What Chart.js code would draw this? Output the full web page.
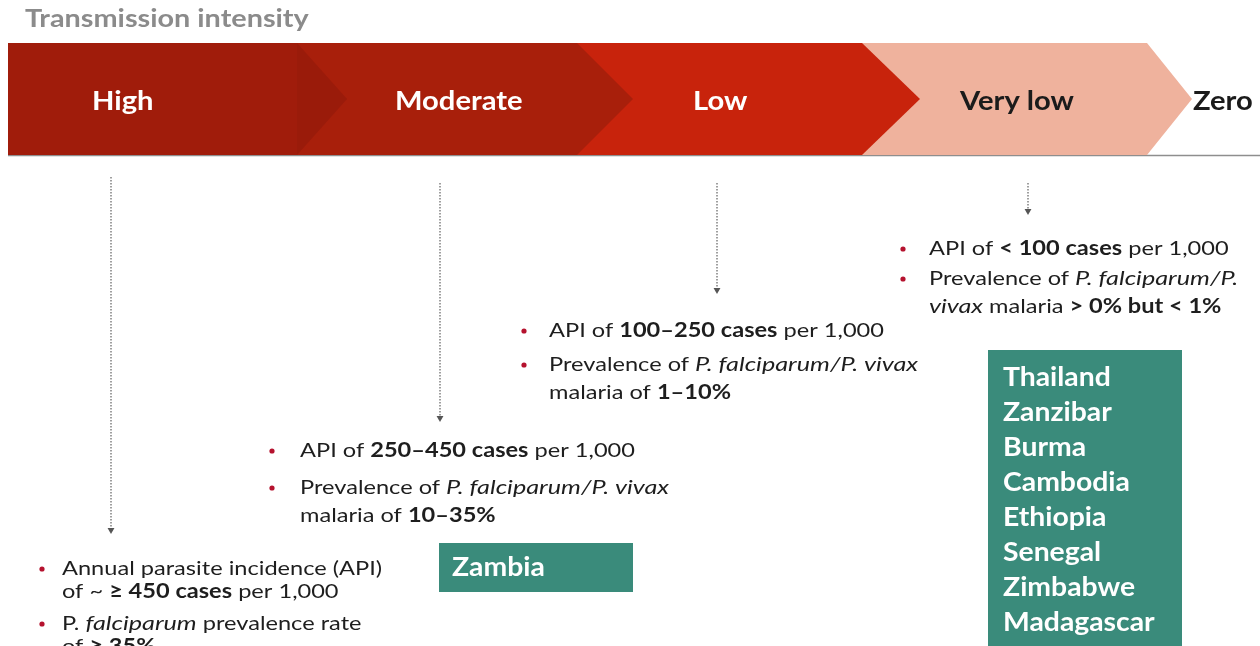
<!DOCTYPE html>
<html>
<head>
<meta charset="utf-8">
<script src="https://cdn.jsdelivr.net/npm/chart.js@4.4.1/dist/chart.umd.min.js"></script>
<style>
  html, body { margin: 0; padding: 0; background: #fff; }
  #wrap { width: 1260px; height: 646px; }
</style>
</head>
<body>
<div id="wrap"><canvas id="intensity"></canvas></div>
<script>
// --- data ---
const title = 'Transmission intensity';
const stages = ['High', 'Moderate', 'Low', 'Very low', 'Zero'];
const stageColors = ['#a01c0b', '#a81f0b', '#c8230c', '#efb29d', '#ffffff'];
const stageTextColors = ['#ffffff', '#ffffff', '#ffffff', '#1b1b1b', '#1b1b1b'];

// bullet notes per stage: bullet -> lines -> [text, style]  (b = bold, i = italic)
const notesHigh = [
  [[['Annual parasite incidence (API)', '']], [['of ~ ', ''], ['\u2265 450 cases', 'b'], [' per 1,000', '']]],
  [[['P. ', ''], ['falciparum', 'i'], [' prevalence rate', '']], [['of ', ''], ['\u2265 35%', 'b']]]
];
const notesModerate = [
  [[['API of ', ''], ['250\u2013450 cases', 'b'], [' per 1,000', '']]],
  [[['Prevalence of ', ''], ['P. falciparum/P. vivax', 'i']], [['malaria of ', ''], ['10\u201335%', 'b']]]
];
const notesLow = [
  [[['API of ', ''], ['100\u2013250 cases', 'b'], [' per 1,000', '']]],
  [[['Prevalence of ', ''], ['P. falciparum/P. vivax', 'i']], [['malaria of ', ''], ['1\u201310%', 'b']]]
];
const notesVeryLow = [
  [[['API of ', ''], ['< 100 cases', 'b'], [' per 1,000', '']]],
  [[['Prevalence of ', ''], ['P. falciparum/P.', 'i']], [['vivax', 'i'], [' malaria ', ''], ['> 0% but < 1%', 'b']]]
];
const countriesModerate = ['Zambia'];
const countriesVeryLow = ['Thailand', 'Zanzibar', 'Burma', 'Cambodia', 'Ethiopia', 'Senegal', 'Zimbabwe', 'Madagascar'];

// --- layout (diagram units = pixels of the 1260x646 picture) ---
const band = { left: 8, top: 43, bottom: 155 };
const chevronEnd = [297, 577, 862, 1147];
const chevronTip = [347, 633, 920, 1192];
const labelX = [92, 395, 693, 960, 1193];
const arrows = [
  { x: 111, from: 177, to: 530 },
  { x: 440, from: 183, to: 418 },
  { x: 717, from: 183, to: 290 },
  { x: 1028, from: 183, to: 211 }
];
const noteBlocks = [
  { notes: notesHigh, dotX: 42, textX: 62, baselines: [[575, 598], [630, 653]] },
  { notes: notesModerate, dotX: 272, textX: 300, baselines: [[457], [494, 522]] },
  { notes: notesLow, dotX: 524, textX: 549, baselines: [[337], [371, 399]] },
  { notes: notesVeryLow, dotX: 903, textX: 929, baselines: [[255], [285, 313]] }
];
const boxes = [
  { names: countriesModerate, x0: 439, x1: 633, y0: 543, y1: 592, textX: 452, first: 576 },
  { names: countriesVeryLow, x0: 988, x1: 1182, y0: 350, y1: 650, textX: 1003, first: 386 }
];

const FONT = 'Lato, "Open Sans", sans-serif';
// the source picture is a little stretched sideways
const stretch = { '': 1.18, b: 1.18, i: 1.26 };

function fontFor(style, size) {
  if (style === 'b') return 'bold ' + size + 'px ' + FONT;
  if (style === 'i') return 'italic ' + size + 'px ' + FONT;
  return size + 'px ' + FONT;
}

function wideText(ctx, t, x, y, sx) {
  ctx.save();
  ctx.translate(x, y);
  ctx.scale(sx, 1);
  ctx.fillText(t, 0, 0);
  ctx.restore();
  return ctx.measureText(t).width * sx;
}

function drawRich(ctx, x, y, segs, size) {
  let cx = x;
  segs.forEach(([t, s]) => {
    ctx.font = fontFor(s, size);
    cx += wideText(ctx, t, cx, y, stretch[s]);
  });
}

const diagram = {
  id: 'diagram',
  beforeDatasetsDraw(chart) {
    const { ctx, scales: { x, y } } = chart;
    const px = v => x.getPixelForValue(v);
    const py = v => y.getPixelForValue(v);
    ctx.save();
    ctx.textBaseline = 'alphabetic';
    // title
    ctx.fillStyle = '#8b8b8b';
    ctx.font = 'bold 24px ' + FONT;
    wideText(ctx, title, px(25), py(27), 1.2);

    // bottom rule of the band
    ctx.strokeStyle = '#8e8e8e';
    ctx.lineWidth = 1.5;
    ctx.beginPath();
    ctx.moveTo(px(band.left), py(band.bottom + 0.5));
    ctx.lineTo(px(1260), py(band.bottom + 0.5));
    ctx.stroke();

    // chevrons, drawn from the right so each one overlaps the next
    const mid = (band.top + band.bottom) / 2;
    for (let i = chevronEnd.length - 1; i >= 0; i--) {
      ctx.fillStyle = stageColors[i];
      ctx.beginPath();
      ctx.moveTo(px(band.left), py(band.top));
      ctx.lineTo(px(chevronEnd[i]), py(band.top));
      ctx.lineTo(px(chevronTip[i]), py(mid));
      ctx.lineTo(px(chevronEnd[i]), py(band.bottom));
      ctx.lineTo(px(band.left), py(band.bottom));
      ctx.closePath();
      ctx.fill();
      if (i === 0) {
        ctx.fillStyle = 'rgba(0,0,0,0.035)';
        ctx.beginPath();
        ctx.moveTo(px(chevronEnd[i]), py(band.top));
        ctx.lineTo(px(chevronTip[i]), py(mid));
        ctx.lineTo(px(chevronEnd[i]), py(band.bottom));
        ctx.closePath();
        ctx.fill();
      }
    }

    // stage labels
    ctx.font = 'bold 27px ' + FONT;
    stages.forEach((s, i) => {
      ctx.fillStyle = stageTextColors[i];
      wideText(ctx, s, px(labelX[i]), py(110), 1.08);
    });
    ctx.restore();
  },
  afterDatasetsDraw(chart) {
    const { ctx, scales: { x, y } } = chart;
    const px = v => x.getPixelForValue(v);
    const py = v => y.getPixelForValue(v);
    ctx.save();
    ctx.textBaseline = 'alphabetic';

    // bullet notes
    noteBlocks.forEach(b => {
      b.notes.forEach((bullet, bi) => {
        const base = b.baselines[bi];
        ctx.fillStyle = '#b5122e';
        ctx.beginPath();
        ctx.arc(px(b.dotX), py(base[0] - 6), 2.6, 0, Math.PI * 2);
        ctx.fill();
        ctx.fillStyle = '#1e1e1e';
        bullet.forEach((line, li) => drawRich(ctx, px(b.textX), py(base[li]), line, 20));
      });
    });

    // country boxes
    boxes.forEach(bx => {
      ctx.fillStyle = '#3a8b7b';
      ctx.fillRect(px(bx.x0), py(bx.y0), px(bx.x1) - px(bx.x0), py(bx.y1) - py(bx.y0));
      ctx.fillStyle = '#ffffff';
      ctx.font = 'bold 26px ' + FONT;
      bx.names.forEach((n, i) => wideText(ctx, n, px(bx.textX), py(bx.first + i * 35), 1.09));
    });
    ctx.restore();
  }
};

new Chart(document.getElementById('intensity').getContext('2d'), {
  type: 'scatter',
  data: {
    datasets: arrows.map((a, i) => ({
      label: stages[i],
      data: [{ x: a.x, y: a.from }, { x: a.x, y: a.to }],
      showLine: true,
      borderColor: '#606060',
      borderWidth: 1.2,
      borderDash: [1.5, 1.5],
      pointRadius: [0, 4],
      pointStyle: 'triangle',
      rotation: 180,
      pointBackgroundColor: '#555555',
      pointBorderWidth: 0
    }))
  },
  options: {
    responsive: true,
    maintainAspectRatio: false,
    animation: false,
    layout: { padding: 0, autoPadding: false },
    plugins: { legend: { display: false }, tooltip: { enabled: false } },
    scales: {
      x: { type: 'linear', min: 0, max: 1260, display: false },
      y: { type: 'linear', min: 0, max: 646, reverse: true, display: false }
    }
  },
  plugins: [diagram]
});
</script>
</body>
</html>
